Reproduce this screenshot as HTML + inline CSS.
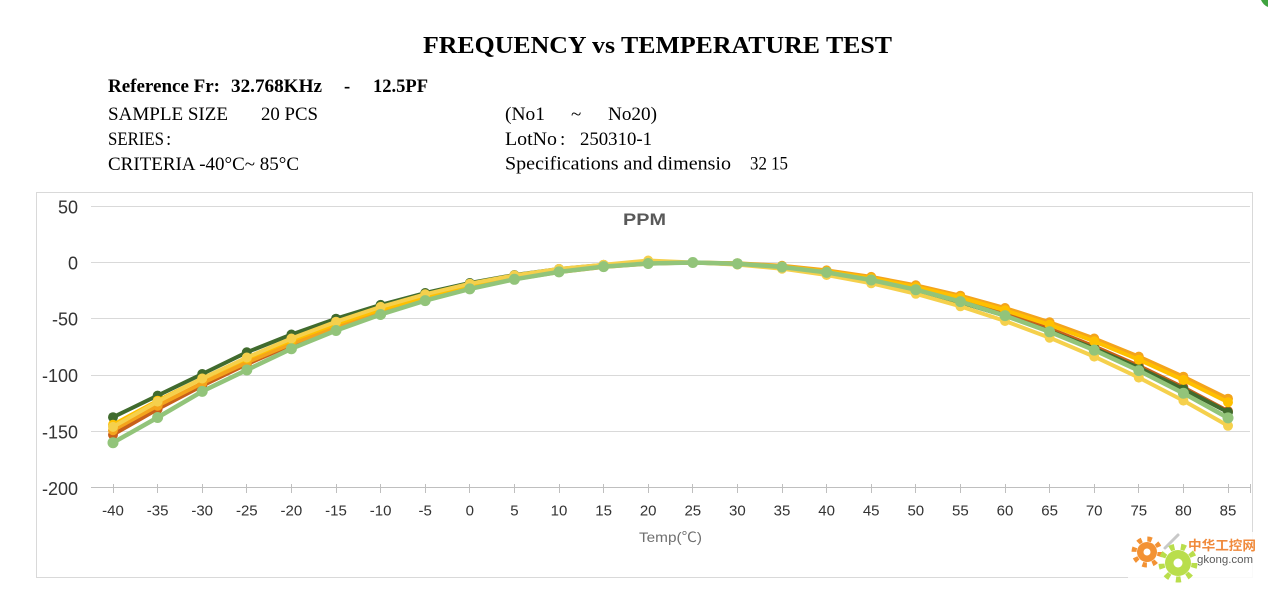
<!DOCTYPE html>
<html>
<head>
<meta charset="utf-8">
<style>
  html,body{margin:0;padding:0;background:#fff;}
  body{width:1268px;height:590px;overflow:hidden;}
  svg{display:block;}
  .ser{font-family:"Liberation Serif","Noto Serif CJK SC",serif;fill:#000;}
  .san{font-family:"Liberation Sans","Noto Sans CJK SC",sans-serif;}
</style>
</head>
<body>
<svg width="1268" height="590" viewBox="0 0 1268 590" xmlns="http://www.w3.org/2000/svg">
  <defs>
    <marker id="mg" markerWidth="12" markerHeight="12" refX="6" refY="6" markerUnits="userSpaceOnUse"><circle cx="6" cy="6" r="5" fill="#406B2E"/></marker>
    <marker id="mo" markerWidth="12" markerHeight="12" refX="6" refY="6" markerUnits="userSpaceOnUse"><circle cx="6" cy="6" r="5" fill="#F4A41C"/></marker>
    <marker id="md" markerWidth="12" markerHeight="12" refX="6" refY="6" markerUnits="userSpaceOnUse"><circle cx="6" cy="6" r="5" fill="#FFC000"/></marker>
    <marker id="mb" markerWidth="12" markerHeight="12" refX="6" refY="6" markerUnits="userSpaceOnUse"><circle cx="6" cy="6" r="5" fill="#C8601A"/></marker>
    <marker id="my" markerWidth="12" markerHeight="12" refX="6" refY="6" markerUnits="userSpaceOnUse"><circle cx="6" cy="6" r="5" fill="#F5D04C"/></marker>
    <marker id="ml" markerWidth="12" markerHeight="12" refX="6" refY="6" markerUnits="userSpaceOnUse"><circle cx="6" cy="6" r="5.5" fill="#92C47A"/></marker>
  </defs>

  <!-- top-right green corner -->
  <circle cx="1273" cy="-5" r="13" fill="#3FA33F"/>

  <!-- Header -->
  <text class="ser" x="423" y="53" font-size="24" font-weight="bold" textLength="469" lengthAdjust="spacingAndGlyphs">FREQUENCY vs TEMPERATURE TEST</text>

  <text class="ser" x="108" y="92" font-size="18.5" font-weight="bold" textLength="112" lengthAdjust="spacingAndGlyphs">Reference Fr:</text>
  <text class="ser" x="231" y="92" font-size="18.5" font-weight="bold" textLength="91" lengthAdjust="spacingAndGlyphs">32.768KHz</text>
  <text class="ser" x="344" y="92" font-size="18.5" font-weight="bold">-</text>
  <text class="ser" x="373" y="92" font-size="18.5" font-weight="bold" textLength="55" lengthAdjust="spacingAndGlyphs">12.5PF</text>

  <text class="ser" x="108" y="120" font-size="19" textLength="120" lengthAdjust="spacingAndGlyphs">SAMPLE SIZE</text>
  <text class="ser" x="261" y="120" font-size="19" textLength="57" lengthAdjust="spacingAndGlyphs">20 PCS</text>
  <text class="ser" x="108" y="145" font-size="19" textLength="56" lengthAdjust="spacingAndGlyphs">SERIES</text>
  <text class="ser" x="166" y="145" font-size="19">:</text>
  <text class="ser" x="108" y="170" font-size="19" textLength="191" lengthAdjust="spacingAndGlyphs">CRITERIA -40°C~ 85°C</text>

  <text class="ser" x="505" y="120" font-size="19" textLength="40" lengthAdjust="spacingAndGlyphs">(No1</text>
  <text class="ser" x="571" y="120" font-size="19">~</text>
  <text class="ser" x="608" y="120" font-size="19" textLength="49" lengthAdjust="spacingAndGlyphs">No20)</text>
  <text class="ser" x="505" y="145" font-size="19" textLength="52" lengthAdjust="spacingAndGlyphs">LotNo</text>
  <text class="ser" x="560" y="145" font-size="19">:</text>
  <text class="ser" x="580" y="145" font-size="19" textLength="72" lengthAdjust="spacingAndGlyphs">250310-1</text>
  <text class="ser" x="505" y="169.5" font-size="19" textLength="226" lengthAdjust="spacingAndGlyphs">Specifications and dimensio</text>
  <text class="ser" x="750" y="169.5" font-size="19" textLength="38" lengthAdjust="spacingAndGlyphs">32 15</text>

  <!-- Chart frame -->
  <rect x="36.5" y="192.5" width="1216" height="385" fill="#fff" stroke="#d9d9d9" stroke-width="1"/>

  <!-- Gridlines -->
  <g stroke="#d9d9d9" stroke-width="1">
    <line x1="91" y1="206.5" x2="1250" y2="206.5"/>
    <line x1="91" y1="262.5" x2="1250" y2="262.5"/>
    <line x1="91" y1="318.5" x2="1250" y2="318.5"/>
    <line x1="91" y1="375.5" x2="1250" y2="375.5"/>
    <line x1="91" y1="431.5" x2="1250" y2="431.5"/>
  </g>
  <!-- X axis -->
  <g stroke="#bfbfbf" stroke-width="1">
    <line x1="91" y1="487.5" x2="1251" y2="487.5"/>
    <line x1="113.5" y1="484" x2="113.5" y2="493"/>
    <line x1="157.5" y1="484" x2="157.5" y2="493"/>
    <line x1="202.5" y1="484" x2="202.5" y2="493"/>
    <line x1="246.5" y1="484" x2="246.5" y2="493"/>
    <line x1="291.5" y1="484" x2="291.5" y2="493"/>
    <line x1="336.5" y1="484" x2="336.5" y2="493"/>
    <line x1="380.5" y1="484" x2="380.5" y2="493"/>
    <line x1="425.5" y1="484" x2="425.5" y2="493"/>
    <line x1="469.5" y1="484" x2="469.5" y2="493"/>
    <line x1="514.5" y1="484" x2="514.5" y2="493"/>
    <line x1="559.5" y1="484" x2="559.5" y2="493"/>
    <line x1="603.5" y1="484" x2="603.5" y2="493"/>
    <line x1="648.5" y1="484" x2="648.5" y2="493"/>
    <line x1="692.5" y1="484" x2="692.5" y2="493"/>
    <line x1="737.5" y1="484" x2="737.5" y2="493"/>
    <line x1="782.5" y1="484" x2="782.5" y2="493"/>
    <line x1="826.5" y1="484" x2="826.5" y2="493"/>
    <line x1="871.5" y1="484" x2="871.5" y2="493"/>
    <line x1="915.5" y1="484" x2="915.5" y2="493"/>
    <line x1="960.5" y1="484" x2="960.5" y2="493"/>
    <line x1="1005.5" y1="484" x2="1005.5" y2="493"/>
    <line x1="1049.5" y1="484" x2="1049.5" y2="493"/>
    <line x1="1094.5" y1="484" x2="1094.5" y2="493"/>
    <line x1="1138.5" y1="484" x2="1138.5" y2="493"/>
    <line x1="1183.5" y1="484" x2="1183.5" y2="493"/>
    <line x1="1228.5" y1="484" x2="1228.5" y2="493"/>
    <line x1="1250.5" y1="484" x2="1250.5" y2="493"/>
  </g>

  <!-- Y labels -->
  <g class="san" font-size="18" fill="#333" text-anchor="end">
    <text x="78" y="213.5">50</text>
    <text x="78" y="269.5">0</text>
    <text x="78" y="325.5">-50</text>
    <text x="78" y="382">-100</text>
    <text x="78" y="438.5">-150</text>
    <text x="78" y="495">-200</text>
  </g>

  <!-- X labels -->
  <g class="san" font-size="15" fill="#333" text-anchor="middle">
    <text x="113" y="515.5">-40</text>
    <text x="157.6" y="515.5">-35</text>
    <text x="202.2" y="515.5">-30</text>
    <text x="246.8" y="515.5">-25</text>
    <text x="291.4" y="515.5">-20</text>
    <text x="336" y="515.5">-15</text>
    <text x="380.6" y="515.5">-10</text>
    <text x="425.2" y="515.5">-5</text>
    <text x="469.8" y="515.5">0</text>
    <text x="514.4" y="515.5">5</text>
    <text x="559" y="515.5">10</text>
    <text x="603.6" y="515.5">15</text>
    <text x="648.2" y="515.5">20</text>
    <text x="692.8" y="515.5">25</text>
    <text x="737.4" y="515.5">30</text>
    <text x="782" y="515.5">35</text>
    <text x="826.6" y="515.5">40</text>
    <text x="871.2" y="515.5">45</text>
    <text x="915.8" y="515.5">50</text>
    <text x="960.4" y="515.5">55</text>
    <text x="1005" y="515.5">60</text>
    <text x="1049.6" y="515.5">65</text>
    <text x="1094.2" y="515.5">70</text>
    <text x="1138.8" y="515.5">75</text>
    <text x="1183.4" y="515.5">80</text>
    <text x="1228" y="515.5">85</text>
  </g>

  <text class="san" x="623" y="225" font-size="17" font-weight="bold" fill="#595959" textLength="43" lengthAdjust="spacingAndGlyphs">PPM</text>
  <text class="san" x="639" y="542" font-size="14" fill="#6f6f6f" textLength="63" lengthAdjust="spacingAndGlyphs">Temp(℃)</text>

  <!-- Series -->
  <g fill="none" stroke-width="4" stroke-linejoin="round">
    <polyline stroke="#C8601A" marker-start="url(#mb)" marker-mid="url(#mb)" marker-end="url(#mb)" points="113.0,434.7 157.6,409.1 202.2,385.7 246.8,364.2 291.4,344.8 336.0,327.5 380.6,312.2 425.2,298.9 469.8,287.7 514.4,278.6 559.0,271.5 603.6,266.4 648.2,263.5 692.8,262.5 737.4,263.6 782.0,266.8 826.6,272.0 871.2,279.2 915.8,288.5 960.4,299.9 1005.0,313.3 1049.6,328.7 1094.2,346.3 1138.8,365.8 1183.4,387.4 1228.0,411.1"/>
    <polyline stroke="#F4A41C" marker-start="url(#mo)" marker-mid="url(#mo)" marker-end="url(#mo)" points="113.0,430.2 157.6,405.7 202.2,383.1 246.8,362.4 291.4,343.7 336.0,326.9 380.6,312.1 425.2,299.2 469.8,288.2 514.4,279.2 559.0,272.1 603.6,267.0 648.2,263.8 692.8,262.5 737.4,263.2 782.0,265.8 826.6,270.4 871.2,276.9 915.8,285.3 960.4,295.7 1005.0,308.0 1049.6,322.3 1094.2,338.5 1138.8,356.6 1183.4,376.7 1228.0,398.7"/>
    <polyline stroke="#406B2E" marker-start="url(#mg)" marker-mid="url(#mg)" marker-end="url(#mg)" points="113.0,417.2 157.6,395.6 202.2,374.0 246.8,352.3 291.4,334.5 336.0,318.7 380.6,304.9 425.2,293.0 469.8,283.0 514.4,275.0 559.0,269.0 603.6,264.9 648.2,262.7 692.8,262.5 737.4,264.3 782.0,268.0 826.6,273.6 871.2,281.2 915.8,290.8 960.4,302.3 1005.0,315.7 1049.6,331.1 1094.2,348.5 1138.8,367.8 1183.4,389.0 1228.0,412.2"/>
    <polyline stroke="#FFC000" marker-start="url(#md)" marker-mid="url(#md)" marker-end="url(#md)" points="113.0,424.7 157.6,400.7 202.2,378.6 246.8,358.4 291.4,340.1 336.0,323.7 380.6,309.3 425.2,296.9 469.8,286.3 514.4,277.7 559.0,271.0 603.6,266.2 648.2,263.4 692.8,262.5 737.4,263.5 782.0,266.5 826.6,271.4 871.2,278.2 915.8,287.0 960.4,297.6 1005.0,310.3 1049.6,324.8 1094.2,341.3 1138.8,359.7 1183.4,380.0 1228.0,402.2"/>
    <polyline stroke="#F5D04C" marker-start="url(#my)" marker-mid="url(#my)" marker-end="url(#my)" points="113.0,426.9 157.6,401.6 202.2,378.5 246.8,357.5 291.4,338.5 336.0,321.7 380.6,306.9 425.2,294.3 469.8,283.7 514.4,275.3 559.0,268.9 603.6,264.7 648.2,260.5 692.8,262.5 737.4,264.6 782.0,268.7 826.6,275.0 871.2,283.3 915.8,293.8 960.4,306.3 1005.0,321.0 1049.6,337.7 1094.2,356.6 1138.8,377.6 1183.4,400.6 1228.0,425.8"/>
    <polyline stroke="#92C47A" stroke-width="4.5" marker-start="url(#ml)" marker-mid="url(#ml)" marker-end="url(#ml)" points="113.0,442.7 157.6,417.5 202.2,391.4 246.8,370.0 291.4,348.7 336.0,330.5 380.6,314.5 425.2,300.6 469.8,288.9 514.4,279.3 559.0,271.9 603.6,266.6 648.2,263.5 692.8,262.5 737.4,263.7 782.0,267.0 826.6,272.4 871.2,280.0 915.8,289.7 960.4,301.6 1005.0,315.6 1049.6,331.8 1094.2,350.1 1138.8,370.6 1183.4,393.2 1228.0,417.9"/>
  </g>

  <!-- watermark -->
  <g>
    <rect x="1128" y="532" width="132" height="52" fill="#fff" opacity="0.85"/>
    <line x1="1165" y1="548" x2="1178" y2="535" stroke="#c8c8c8" stroke-width="3" stroke-linecap="round"/>
    <circle cx="1147" cy="552" r="10" fill="#F39234"/>
    <circle cx="1147" cy="552" r="13" fill="none" stroke="#F39234" stroke-width="5" stroke-dasharray="4.5 5.7"/>
    <circle cx="1147" cy="552" r="3.5" fill="#fff"/>
    <circle cx="1178" cy="563" r="13" fill="#B9DE4C"/>
    <circle cx="1178" cy="563" r="16.5" fill="none" stroke="#B9DE4C" stroke-width="6" stroke-dasharray="5 6.5"/>
    <circle cx="1178" cy="563" r="4.5" fill="#fff"/>
    <text x="1188" y="550" font-family="'Noto Sans CJK SC','WenQuanYi Zen Hei',sans-serif" font-size="13" font-weight="bold" fill="#F08A3C" textLength="68" lengthAdjust="spacingAndGlyphs">中华工控网</text>
    <text class="san" x="1197" y="563" font-size="11" fill="#5a5a5a" textLength="56" lengthAdjust="spacingAndGlyphs">gkong.com</text>
  </g>
</svg>
</body>
</html>
